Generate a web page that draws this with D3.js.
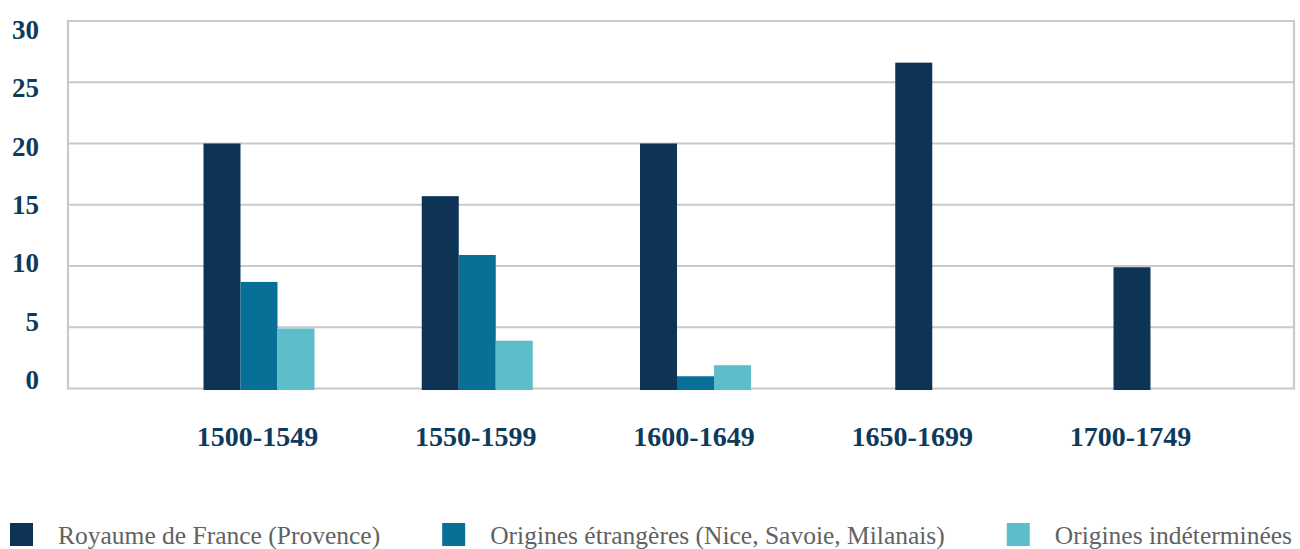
<!DOCTYPE html>
<html>
<head>
<meta charset="utf-8">
<script src="https://cdn.jsdelivr.net/npm/d3@7"></script>
<style>
  html, body { margin: 0; padding: 0; background: #fff; }
  svg { display: block; }
</style>
</head>
<body>
<svg id="chart" width="1300" height="549"></svg>
<script>
const categories = ["1500-1549", "1550-1599", "1600-1649", "1650-1699", "1700-1749"];
const seriesNames = ["Royaume de France (Provence)", "Origines étrangères (Nice, Savoie, Milanais)", "Origines indéterminées"];
const royaume = [20, 15.7, 20, 26.6, 9.9];
const etrangeres = [8.7, 10.9, 1.0, null, null];
const indeterminees = [4.9, 3.9, 1.9, null, null];
const yTicks = [0, 5, 10, 15, 20, 25, 30];
const colors = ["#0d3455", "#087096", "#5dbdca"];

const seriesValues = [royaume, etrangeres, indeterminees];
const svg = d3.select("#chart");
const serif = '"Liberation Serif", "Times New Roman", Times, "DejaVu Serif", "Noto Serif", serif';

const plot = { left: 68, right: 1294, top: 21, bottom: 388.5 };
const y = d3.scaleLinear().domain([0, 30]).range([plot.bottom, plot.top]);
// tick labels in the reference sit on a slightly compressed scale
const yLabel = d3.scaleLinear().domain([0, 30]).range([380, 30]);
const x = d3.scalePoint().domain(categories).range([259, 1132]);
const barW = 37;
const grid = "#c9c9c9";

// gridlines
svg.append("g").selectAll("line").data(yTicks).join("line")
  .attr("x1", plot.left).attr("x2", plot.right)
  .attr("y1", d => y(d)).attr("y2", d => y(d))
  .attr("stroke", grid).attr("stroke-width", 2.2);

// frame sides
svg.append("line").attr("x1", plot.left).attr("x2", plot.left)
  .attr("y1", plot.top - 1).attr("y2", plot.bottom + 1)
  .attr("stroke", grid).attr("stroke-width", 2.2);
svg.append("line").attr("x1", plot.right).attr("x2", plot.right)
  .attr("y1", plot.top - 1).attr("y2", plot.bottom + 1)
  .attr("stroke", grid).attr("stroke-width", 2.2);

// bars
const bars = [];
categories.forEach((c, i) => {
  const present = seriesValues.map((s, k) => ({ k, v: s[i] })).filter(d => d.v != null);
  present.forEach((d, j) => {
    bars.push({ c, k: d.k, v: d.v, offset: (j - (present.length - 1) / 2) * barW });
  });
});
svg.append("g").selectAll("rect").data(bars).join("rect")
  .attr("x", d => x(d.c) + d.offset - barW / 2)
  .attr("width", barW)
  .attr("y", d => y(d.v))
  .attr("height", d => y(0) - y(d.v) + 1.5)
  .attr("fill", d => colors[d.k]);

// y axis labels
const yAxis = d3.axisLeft(yLabel).tickValues(yTicks).tickSize(0).tickPadding(0);
const gy = svg.append("g").attr("transform", "translate(39,0)").call(yAxis);
gy.select(".domain").remove();
gy.attr("font-family", null);
gy.selectAll("text")
  .attr("fill", "#0e3a5c")
  .attr("font-family", serif)
  .style("font-family", serif)
  .style("font-weight", "bold")
  .style("font-size", "27px");

// x axis labels
const xAxis = d3.axisBottom(x).tickSize(0).tickPadding(0);
const gx = svg.append("g").attr("transform", "translate(-2,426)").call(xAxis);
gx.select(".domain").remove();
gx.attr("font-family", null);
gx.selectAll("text")
  .attr("fill", "#0e3a5c")
  .attr("font-family", serif)
  .style("font-family", serif)
  .style("font-weight", "bold")
  .style("font-size", "28px");

// legend
const legend = svg.append("g");
let lx = 10;
seriesNames.forEach((name, k) => {
  legend.append("rect").attr("x", lx).attr("y", 523).attr("width", 23).attr("height", 23).attr("fill", colors[k]);
  const t = legend.append("text").attr("x", lx + 48).attr("y", 544)
    .attr("fill", "#626262")
    .attr("font-family", serif)
    .style("font-family", serif)
    .style("font-size", "25.5px")
    .text(name);
  const w = t.node().getComputedTextLength();
  lx = lx + 48 + w + 62;
});
</script>
</body>
</html>
